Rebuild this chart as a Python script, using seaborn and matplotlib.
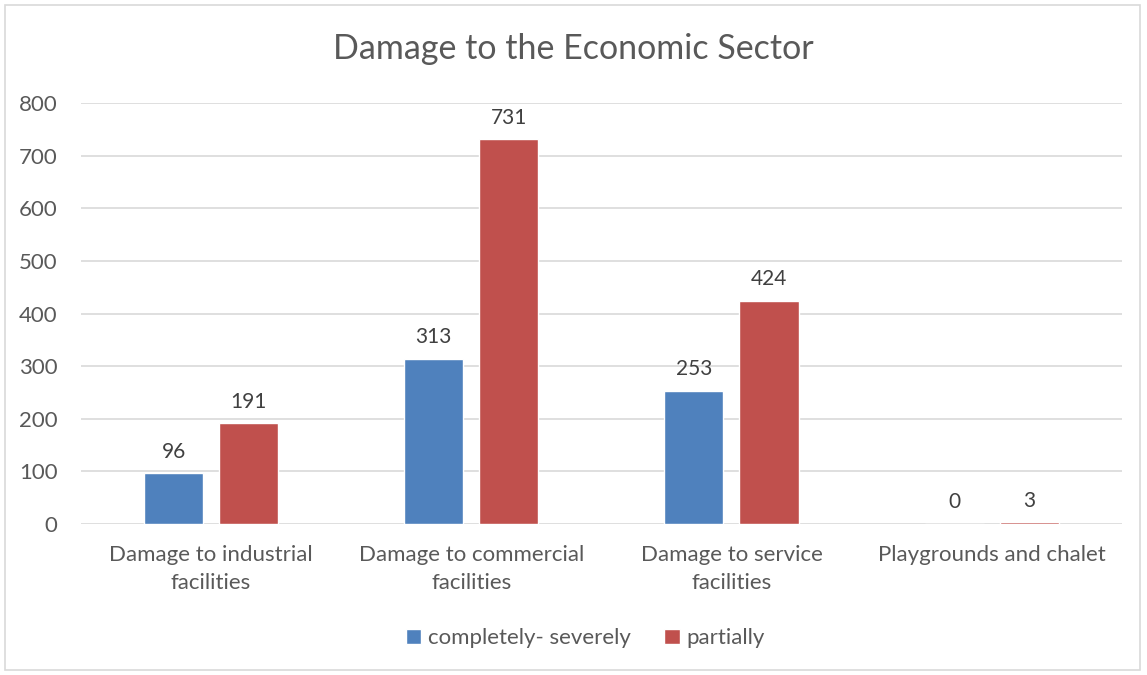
import matplotlib
matplotlib.use("Agg")
import matplotlib.pyplot as plt
import seaborn as sns
import pandas as pd
from matplotlib.patches import Rectangle

categories = ["Damage to industrial\nfacilities", "Damage to commercial\nfacilities",
              "Damage to service\nfacilities", "Playgrounds and chalet"]
series_names = ["completely- severely", "partially"]
severe = [96, 313, 253, 0]
partial = [191, 731, 424, 3]
yticks = [0, 100, 200, 300, 400, 500, 600, 700, 800]

df = pd.DataFrame({
    "category": categories * 2,
    "series": [series_names[0]] * 4 + [series_names[1]] * 4,
    "value": severe + partial,
})

sns.set_theme(style="white")
plt.rcParams["font.family"] = ["Lato", "DejaVu Sans"]
text_color = "#595959"

fig = plt.figure(figsize=(11.47, 6.75), dpi=100)
ax = fig.add_axes([0.0706, 0.2237, 0.9074, 0.6237])

palette = {series_names[0]: "#4F81BD", series_names[1]: "#C0504D"}
sns.barplot(data=df, x="category", y="value", hue="series", order=categories,
            hue_order=series_names, palette=palette, width=0.577, gap=0.213,
            saturation=1, ax=ax, legend=True)

for cont in ax.containers:
    ax.bar_label(cont, fmt="%d", padding=8.5, fontsize=15, color="#404040")

ax.set_ylim(0, 800)
ax.set_yticks(yticks)
ax.set_yticklabels([str(t) for t in yticks], fontsize=16, color=text_color)
ax.set_xlim(-0.5, 3.5)
ax.tick_params(axis="x", labelsize=16, labelcolor=text_color, length=0, pad=15)
ax.tick_params(axis="y", length=0, pad=17)
for lbl in ax.get_xticklabels():
    lbl.set_linespacing(1.5)
ax.set_xlabel("")
ax.set_ylabel("")
ax.yaxis.grid(True, color="#D9D9D9", linewidth=1.2)
ax.set_axisbelow(True)
for s in ax.spines.values():
    s.set_visible(False)

fig.suptitle("Damage to the Economic Sector", y=0.951, fontsize=24.5, color=text_color)

ax.legend(loc="upper center", bbox_to_anchor=(0.4846, -0.2), ncol=2, frameon=False,
          fontsize=16, labelcolor=text_color, handlelength=0.7, handleheight=0.7,
          handletextpad=0.3, columnspacing=1.5)

fig.patches.append(Rectangle((5 / 1147, 5 / 675), 1 - 12 / 1147, 1 - 10 / 675,
                             transform=fig.transFigure, fill=False,
                             edgecolor="#D9D9D9", linewidth=1.2))

fig.savefig("out.png", dpi=100)
